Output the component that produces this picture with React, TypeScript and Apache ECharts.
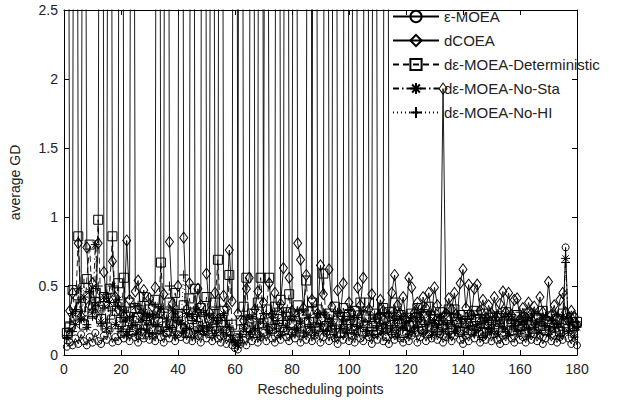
import React, { useEffect, useRef } from "react";
import * as echarts from "echarts";

const seriesNames = [
  "ε-MOEA",
  "dCOEA",
  "dε-MOEA-Deterministic",
  "dε-MOEA-No-Sta",
  "dε-MOEA-No-HI",
];

// average GD at rescheduling points 1..180
const epsMOEA = [
  0.06, 0.09, 0.07, 0.12, 0.08, 0.15, 0.10, 0.07, 0.13, 0.09,
  0.16, 0.10, 0.08, 0.14, 0.11, 0.18, 0.09, 0.13, 0.10, 0.15,
  0.12, 0.19, 0.10, 0.16, 0.13, 0.09, 0.17, 0.12, 0.20, 0.11,
  0.14, 0.10, 0.18, 0.13, 0.09, 0.16, 0.12, 0.19, 0.10, 0.15,
  0.13, 0.20, 0.11, 0.16, 0.10, 0.18, 0.14, 0.09, 0.17, 0.12,
  0.15, 0.10, 0.18, 0.12, 0.09, 0.14, 0.08, 0.12, 0.07, 0.05,
  0.04, 0.08, 0.11, 0.07, 0.14, 0.10, 0.17, 0.09, 0.13, 0.16,
  0.10, 0.18, 0.12, 0.09, 0.15, 0.11, 0.19, 0.13, 0.10, 0.16,
  0.12, 0.20, 0.09, 0.15, 0.11, 0.17, 0.10, 0.14, 0.18, 0.09,
  0.13, 0.16, 0.10, 0.19, 0.12, 0.08, 0.15, 0.11, 0.18, 0.10,
  0.14, 0.09, 0.17, 0.12, 0.10, 0.16, 0.13, 0.08, 0.15, 0.11,
  0.18, 0.10, 0.13, 0.08, 0.15, 0.11, 0.19, 0.12, 0.09, 0.16,
  0.10, 0.14, 0.18, 0.09, 0.13, 0.16, 0.10, 0.15, 0.12, 0.19,
  0.11, 0.15, 0.09, 0.13, 0.17, 0.10, 0.14, 0.18, 0.11, 0.08,
  0.14, 0.10, 0.16, 0.12, 0.19, 0.09, 0.13, 0.11, 0.17, 0.10,
  0.15, 0.11, 0.08, 0.14, 0.10, 0.18, 0.12, 0.09, 0.16, 0.11,
  0.13, 0.09, 0.17, 0.11, 0.15, 0.10, 0.14, 0.08, 0.12, 0.16,
  0.10, 0.14, 0.09, 0.13, 0.11, 0.78, 0.12, 0.08, 0.15, 0.07,
];

const dCOEA = [
  9.5, 0.32, 0.45, 11.0, 0.81, 0.28, 8.0, 0.78, 0.36, 0.52,
  0.30, 0.81, 12.0, 0.60, 0.38, 10.0, 0.68, 0.42, 0.33, 14.0,
  0.28, 0.83, 0.40, 9.0, 0.46, 0.54, 0.30, 0.47, 0.25, 0.41,
  0.35, 0.49, 11.0, 0.31, 0.44, 13.0, 0.82, 0.37, 0.27, 0.50,
  12.0, 0.85, 0.33, 0.52, 10.0, 0.29, 0.48, 0.36, 15.0, 0.59,
  0.31, 9.0, 0.45, 0.26, 11.0, 0.43, 0.34, 0.76, 0.39, 13.0,
  0.30, 12.0, 0.25, 0.48, 0.56, 10.0, 0.33, 0.46, 14.0, 0.38,
  9.0, 0.52, 0.29, 0.45, 12.0, 0.37, 0.63, 11.0, 0.56, 0.32,
  10.0, 0.81, 0.69, 0.34, 0.58, 13.0, 0.40, 11.0, 0.30, 0.65,
  0.44, 12.0, 0.62, 0.35, 10.0, 0.47, 0.29, 0.52, 14.0, 0.38,
  0.31, 11.0, 0.49, 0.36, 0.56, 12.0, 0.33, 0.44, 9.5, 0.27,
  0.40, 0.32, 13.0, 0.28, 0.45, 0.58, 0.36, 0.30, 0.42, 0.26,
  0.56, 0.49, 0.31, 0.38, 0.27, 0.42, 0.34, 0.45, 0.29, 0.49,
  0.36, 0.26, 1.93, 0.30, 0.41, 0.33, 0.45, 0.28, 0.52, 0.62,
  0.34, 0.51, 0.29, 0.48, 0.51, 0.32, 0.40, 0.27, 0.36, 0.30,
  0.42, 0.28, 0.37, 0.46, 0.31, 0.45, 0.29, 0.40, 0.41, 0.26,
  0.34, 0.27, 0.38, 0.30, 0.35, 0.28, 0.42, 0.31, 0.26, 0.53,
  0.29, 0.36, 0.27, 0.40, 0.45, 0.31, 0.25, 0.32, 0.28, 0.22,
];

const deterministic = [
  0.16, 0.20, 0.47, 0.28, 0.86, 0.35, 0.22, 0.55, 0.80, 0.30,
  0.45, 0.98, 0.26, 0.42, 0.20, 0.48, 0.86, 0.32, 0.52, 0.24,
  0.56, 0.22, 0.38, 0.18, 0.34, 0.27, 0.15, 0.42, 0.25, 0.33,
  0.19, 0.40, 0.24, 0.67, 0.30, 0.17, 0.38, 0.22, 0.45, 0.28,
  0.20, 0.36, 0.16, 0.41, 0.26, 0.48, 0.21, 0.34, 0.18, 0.42,
  0.27, 0.19, 0.38, 0.69, 0.24, 0.32, 0.17, 0.58, 0.22, 0.14,
  0.12, 0.25, 0.35, 0.56, 0.20, 0.30, 0.16, 0.38, 0.56, 0.23,
  0.33, 0.56, 0.19, 0.35, 0.26, 0.40, 0.18, 0.31, 0.44, 0.22,
  0.28, 0.36, 0.17, 0.30, 0.54, 0.24, 0.38, 0.20, 0.33, 0.26,
  0.59, 0.21, 0.30, 0.18, 0.35, 0.25, 0.16, 0.34, 0.22, 0.29,
  0.19, 0.32, 0.24, 0.38, 0.17, 0.28, 0.38, 0.21, 0.30, 0.18,
  0.26, 0.34, 0.20, 0.31, 0.18, 0.38, 0.23, 0.29, 0.16, 0.27,
  0.21, 0.30, 0.17, 0.34, 0.24, 0.19, 0.28, 0.35, 0.20, 0.26,
  0.18, 0.31, 0.22, 0.27, 0.33, 0.19, 0.33, 0.24, 0.17, 0.29,
  0.23, 0.29, 0.18, 0.32, 0.21, 0.26, 0.16, 0.30, 0.22, 0.27,
  0.19, 0.28, 0.24, 0.17, 0.31, 0.22, 0.26, 0.18, 0.29, 0.21,
  0.25, 0.17, 0.30, 0.22, 0.19, 0.27, 0.21, 0.32, 0.18, 0.24,
  0.28, 0.20, 0.26, 0.17, 0.30, 0.23, 0.19, 0.27, 0.21, 0.24,
];

const noSta = [
  0.12, 0.18, 0.30, 0.22, 0.48, 0.26, 0.42, 0.20, 0.46, 0.31,
  0.80, 0.36, 0.24, 0.42, 0.19, 0.38, 0.50, 0.22, 0.40, 0.17,
  0.32, 0.14, 0.27, 0.21, 0.35, 0.16, 0.26, 0.31, 0.18, 0.28,
  0.15, 0.29, 0.22, 0.34, 0.17, 0.26, 0.20, 0.32, 0.14, 0.27,
  0.23, 0.16, 0.30, 0.19, 0.28, 0.13, 0.33, 0.21, 0.17, 0.29,
  0.20, 0.27, 0.14, 0.25, 0.18, 0.30, 0.15, 0.21, 0.11, 0.09,
  0.07, 0.13, 0.19, 0.26, 0.15, 0.28, 0.18, 0.24, 0.13, 0.30,
  0.21, 0.16, 0.29, 0.19, 0.25, 0.14, 0.31, 0.20, 0.26, 0.15,
  0.28, 0.18, 0.23, 0.32, 0.16, 0.27, 0.20, 0.14, 0.30, 0.22,
  0.17, 0.29, 0.21, 0.26, 0.13, 0.31, 0.19, 0.24, 0.16, 0.28,
  0.22, 0.15, 0.27, 0.20, 0.32, 0.17, 0.24, 0.14, 0.29, 0.19,
  0.26, 0.16, 0.21, 0.30, 0.18, 0.25, 0.13, 0.28, 0.20, 0.23,
  0.15, 0.27, 0.19, 0.24, 0.31, 0.16, 0.22, 0.29, 0.14, 0.25,
  0.20, 0.28, 0.17, 0.23, 0.13, 0.30, 0.21, 0.18, 0.26, 0.15,
  0.24, 0.19, 0.29, 0.16, 0.22, 0.27, 0.14, 0.25, 0.20, 0.17,
  0.28, 0.15, 0.23, 0.19, 0.30, 0.14, 0.26, 0.21, 0.17, 0.24,
  0.18, 0.25, 0.13, 0.29, 0.20, 0.23, 0.16, 0.27, 0.21, 0.15,
  0.26, 0.19, 0.22, 0.14, 0.28, 0.70, 0.17, 0.24, 0.13, 0.20,
];

const noHI = [
  0.14, 0.24, 0.17, 0.33, 0.40, 0.26, 0.52, 0.22, 0.45, 0.28,
  0.38, 0.50, 0.21, 0.34, 0.44, 0.26, 0.32, 0.38, 0.19, 0.35,
  0.24, 0.31, 0.17, 0.28, 0.22, 0.36, 0.19, 0.30, 0.25, 0.16,
  0.29, 0.21, 0.35, 0.18, 0.31, 0.24, 0.50, 0.20, 0.27, 0.33,
  0.22, 0.58, 0.19, 0.30, 0.25, 0.34, 0.17, 0.28, 0.32, 0.21,
  0.29, 0.18, 0.33, 0.23, 0.27, 0.16, 0.25, 0.20, 0.14, 0.10,
  0.08, 0.15, 0.22, 0.17, 0.29, 0.21, 0.33, 0.19, 0.26, 0.23,
  0.30, 0.18, 0.27, 0.22, 0.34, 0.17, 0.25, 0.31, 0.20, 0.28,
  0.19, 0.32, 0.24, 0.16, 0.29, 0.22, 0.35, 0.18, 0.27, 0.21,
  0.31, 0.17, 0.26, 0.23, 0.19, 0.30, 0.16, 0.28, 0.22, 0.33,
  0.18, 0.27, 0.21, 0.32, 0.24, 0.17, 0.29, 0.20, 0.26, 0.15,
  0.30, 0.22, 0.19, 0.27, 0.16, 0.31, 0.23, 0.18, 0.28, 0.21,
  0.25, 0.17, 0.30, 0.20, 0.26, 0.33, 0.18, 0.24, 0.21, 0.29,
  0.16, 0.27, 0.22, 0.31, 0.19, 0.25, 0.17, 0.29, 0.23, 0.20,
  0.28, 0.21, 0.26, 0.18, 0.32, 0.20, 0.24, 0.16, 0.27, 0.22,
  0.19, 0.30, 0.23, 0.26, 0.17, 0.28, 0.21, 0.25, 0.18, 0.31,
  0.22, 0.27, 0.19, 0.24, 0.30, 0.16, 0.26, 0.21, 0.28, 0.18,
  0.25, 0.20, 0.29, 0.23, 0.18, 0.67, 0.22, 0.27, 0.19, 0.24,
];

const allValues = [epsMOEA, dCOEA, deterministic, noSta, noHI];

const X_MIN = 0;
const X_MAX = 180;
const X_STEP = 20;
const Y_MIN = 0;
const Y_MAX = 2.5;
const Y_STEP = 0.5;

const markerStyles = [
  { symbol: "circle", symbolSize: 7, dash: "solid" as any },
  { symbol: "diamond", symbolSize: [8, 11], dash: "solid" as any },
  { symbol: "rect", symbolSize: 9, dash: [6, 4] },
  {
    symbol: "path://M5,0L5,10M0,5L10,5M1.5,1.5L8.5,8.5M8.5,1.5L1.5,8.5",
    symbolSize: 9,
    dash: [6, 3, 1.5, 3],
  },
  { symbol: "path://M5,0L5,10M0,5L10,5", symbolSize: 9, dash: [1, 3] },
];

export default function App() {
  const ref = useRef<HTMLDivElement>(null);

  useEffect(() => {
    if (!ref.current) return;
    const chart = echarts.init(ref.current, null, { renderer: "svg" });
    const font = "'Liberation Sans', Arial, Helvetica, sans-serif";
    const textColor = "#222";

    const axisBase = {
      axisLine: { show: true, onZero: false, lineStyle: { color: "#000", width: 1 } },
      axisTick: { show: true, inside: true, length: 5, lineStyle: { color: "#000" } },
      splitLine: { show: false },
    };

    const xBottom = {
      ...axisBase,
      type: "value",
      position: "bottom",
      min: X_MIN,
      max: X_MAX,
      interval: X_STEP,
      name: "Rescheduling points",
      nameLocation: "middle",
      nameGap: 27,
      nameTextStyle: { color: textColor, fontSize: 14, fontFamily: font },
      axisLabel: { color: textColor, fontSize: 14, fontFamily: font, margin: 7 },
    };
    const xTop = {
      ...axisBase,
      type: "value",
      position: "top",
      min: X_MIN,
      max: X_MAX,
      interval: X_STEP,
      axisLabel: { show: false },
    };
    const yLeft = {
      ...axisBase,
      type: "value",
      position: "left",
      min: Y_MIN,
      max: Y_MAX,
      interval: Y_STEP,
      name: "average GD",
      nameLocation: "middle",
      nameGap: 42,
      nameTextStyle: { color: textColor, fontSize: 14, fontFamily: font },
      axisLabel: { color: textColor, fontSize: 14, fontFamily: font, margin: 6 },
    };
    const yRight = {
      ...axisBase,
      type: "value",
      position: "right",
      min: Y_MIN,
      max: Y_MAX,
      interval: Y_STEP,
      axisLabel: { show: false },
    };

    const series = allValues.map((vals, si) => ({
      name: seriesNames[si],
      type: "line",
      xAxisIndex: 0,
      yAxisIndex: 0,
      data: vals.map((v, i) => [i + 1, v]),
      symbol: markerStyles[si].symbol,
      symbolSize: markerStyles[si].symbolSize,
      showSymbol: true,
      showAllSymbol: true,
      clip: true,
      color: "#000",
      lineStyle: { color: "#000", width: 0.9, type: markerStyles[si].dash },
      itemStyle: { color: "rgba(0,0,0,0)", borderColor: "#000", borderWidth: 1 },
      emphasis: { disabled: true },
      z: 2 + si,
    }));

    chart.setOption({
      animation: false,
      backgroundColor: "#fff",
      color: ["#000"],
      grid: { left: 62, right: 48, top: 10, bottom: 50, containLabel: false },
      xAxis: [xBottom, xTop],
      yAxis: [yLeft, yRight],
      legend: {
        show: true,
        orient: "vertical",
        left: 392,
        top: 9,
        padding: 0,
        itemWidth: 46,
        itemHeight: 14,
        itemGap: 9,
        selectedMode: false,
        textStyle: { color: textColor, fontSize: 15, fontFamily: font },
        data: seriesNames,
      },
      series,
    });

    return () => chart.dispose();
  }, []);

  return (
    <div
      ref={ref}
      style={{ position: "absolute", left: 0, top: 0, width: 625, height: 405, background: "#fff" }}
    />
  );
}
